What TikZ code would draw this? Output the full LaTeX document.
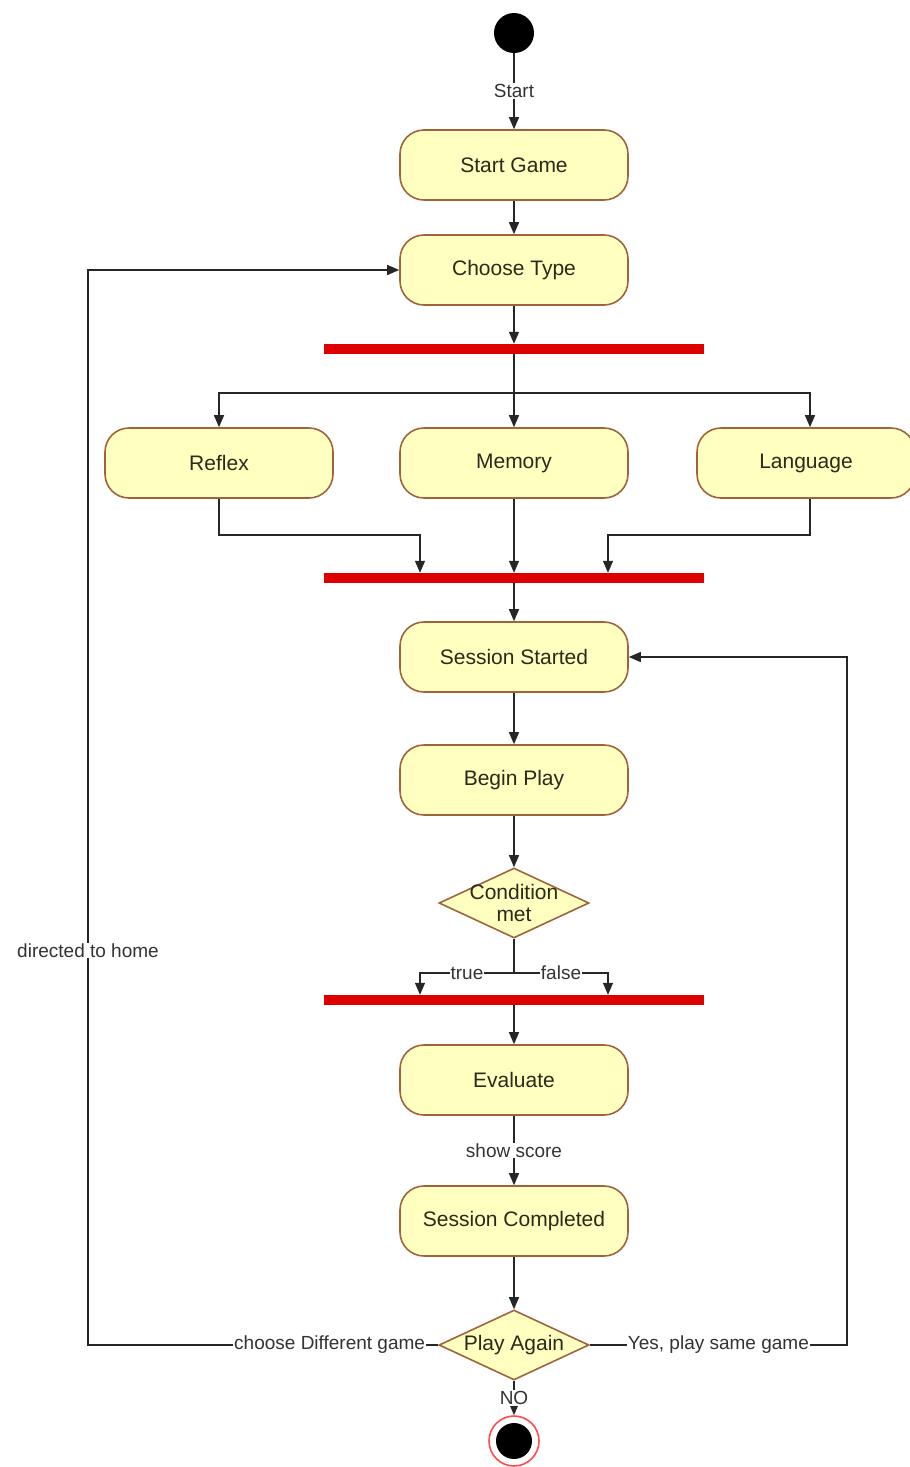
\documentclass[tikz,border=0pt]{standalone}
\usepackage{fontspec}
\setmainfont{Liberation Sans}
\usetikzlibrary{shapes.geometric,arrows.meta}
\definecolor{actfill}{HTML}{FFFFC0}
\definecolor{actline}{HTML}{A0643C}
\definecolor{barred}{HTML}{DD0000}
\definecolor{txt}{HTML}{2A2A1A}
\begin{document}
\begin{tikzpicture}[x=1pt,y=-1pt,
  action/.style={draw=actline, fill=actfill, line width=1.6pt, rounded corners=24pt,
    minimum width=228pt, minimum height=70pt, inner sep=0pt,
    font=\fontsize{21}{24}\selectfont, text=txt},
  decision/.style={diamond, draw=actline, fill=actfill, line width=1.6pt,
    minimum width=150pt, minimum height=70pt, inner sep=0pt},
  dtext/.style={font=\fontsize{21}{22}\selectfont, text=txt, align=center, inner sep=0pt},
  syncbar/.style={rectangle, fill=barred, minimum width=380pt, minimum height=10pt, inner sep=0pt},
  line/.style={draw=black!85, line width=1.3pt},
  arr/.style={line, -{Triangle[length=12pt,width=10pt]}},
  lbl/.style={fill=white, inner sep=1pt, font=\fontsize{19}{22}\selectfont, text=black!80},
]
\useasboundingbox (0,0) rectangle (910,1467);

% initial and final states
\node[circle, fill=black, minimum size=40pt, inner sep=0pt] (start) at (514,33) {};
\node[circle, draw=red!70, fill=white, line width=1.6pt, minimum size=50pt, inner sep=0pt] (finish) at (514,1441) {};
\node[circle, fill=black, minimum size=36pt, inner sep=0pt] (finishdot) at (finish) {};

% actions
\node[action] (startgame) at (514,165) {Start Game};
\node[action] (choose) at (514,270) {Choose Type};
\node[action] (reflex) at (219,463) {Reflex};
\node[action] (memory) at (514,463) {Memory};
\node[action, minimum width=218pt] (language) at (806,463) {Language};
\node[action] (session) at (514,657) {Session Started};
\node[action] (begin) at (514,780) {Begin Play};
\node[action] (evaluate) at (514,1080) {Evaluate};
\node[action] (completed) at (514,1221) {Session Completed};

% fork / join bars
\node[syncbar] (bar1) at (514,349) {};
\node[syncbar] (bar2) at (514,578) {};
\node[syncbar] (bar3) at (514,1000) {};

% decisions
\node[decision] (cond) at (514,903) {};
\node[dtext] (condtext) at (cond) {Condition\\met};
\node[decision] (again) at (514,1345) {};
\node[dtext] (againtext) at (again) {Play Again};

% main flow
\draw[arr] (start) -- node[lbl]{Start} (startgame);
\draw[arr] (startgame) -- (choose);
\draw[arr] (choose) -- (bar1);

% fork into the three game types
\coordinate (fork) at (514,393);
\coordinate (fr) at (810,393);
\draw[line] (bar1) -- (fork);
\draw[arr] (fork) -| (reflex);
\draw[arr] (fork) -- (memory);
\draw[arr] (fork) -- (fr) -- (fr |- language.north);

% join
\coordinate (jl) at (420,535);
\coordinate (jr) at (608,535);
\draw[arr] (reflex.south) |- (jl) -- (jl |- bar2.north);
\draw[arr] (memory) -- (bar2);
\draw[arr] (fr |- language.south) |- (jr) -- (jr |- bar2.north);

\draw[arr] (bar2) -- (session);
\draw[arr] (session) -- (begin);
\draw[arr] (begin) -- (cond);

% condition branches
\coordinate (cs) at (514,973);
\coordinate (tl) at (420,973);
\coordinate (fl) at (608,973);
\draw[line] (cond.south) -- (cs);
\draw[arr] (cs) -- node[lbl]{true} (tl) -- (tl |- bar3.north);
\draw[arr] (cs) -- node[lbl]{false} (fl) -- (fl |- bar3.north);

\draw[arr] (bar3) -- (evaluate);
\draw[arr] (evaluate) -- node[lbl]{show score} (completed);
\draw[arr] (completed) -- (again);

% play again choices
\coordinate (hl) at (88,1345);
\coordinate (ht) at (88,270);
\draw[arr] (again.west) -- node[lbl, pos=0.31]{choose Different game} (hl)
  -- node[lbl, pos=0.367]{directed to home} (ht) -- (choose.west);
\coordinate (sr) at (847,1345);
\coordinate (st) at (847,657);
\draw[arr] (again.east) -- node[lbl]{Yes, play same game} (sr) -- (st) -- (session.east);
\draw[arr] (again.south) -- node[lbl]{NO} (finish);
\end{tikzpicture}
\end{document}
